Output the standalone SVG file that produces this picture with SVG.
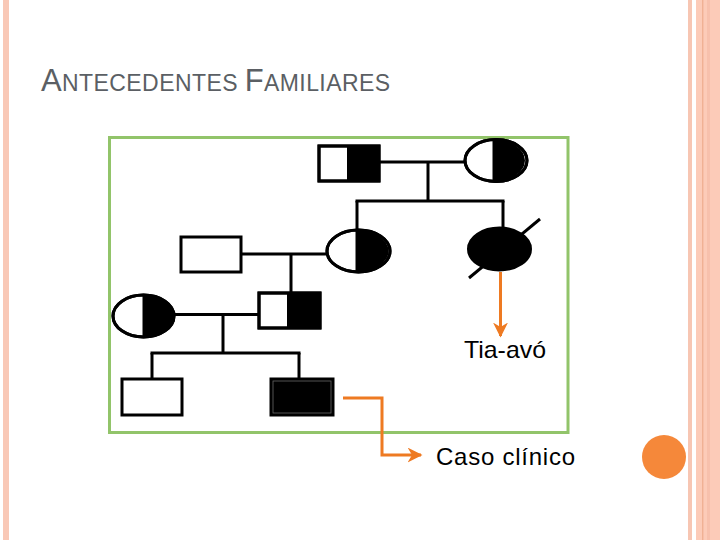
<svg xmlns="http://www.w3.org/2000/svg" width="720" height="540" viewBox="0 0 720 540">
<defs>
<style>
.ln{stroke:#000;stroke-width:3;fill:none}
.nd{stroke:#000;stroke-width:3;fill:#fff}
.bk{fill:#000;stroke:none}
.or{stroke:#EE7A22;stroke-width:3;fill:none}
.lbl{font-family:"Liberation Sans",Arial,sans-serif;fill:#000}
</style>
<marker id="ah" viewBox="0 0 10 10" refX="9" refY="5" markerWidth="5" markerHeight="5" orient="auto" markerUnits="strokeWidth">
<path d="M0,0 L10,5 L0,10 L3,5 Z" fill="#EE7A22"/>
</marker>
</defs>
<rect width="720" height="540" fill="#fff"/>
<!-- side decorations -->
<rect x="3" y="0" width="6" height="540" fill="#F9C8B6"/>
<rect x="688" y="0" width="4" height="540" fill="#F7C6B3"/>
<rect x="696" y="0" width="24" height="540" fill="#FCCBB8"/>
<rect x="707" y="0" width="3" height="540" fill="#F7C0AC"/>
<line x1="702.8" y1="0" x2="702.8" y2="540" stroke="#EBA585" stroke-width="1"/>
<circle cx="664" cy="457" r="22" fill="#F5883A"/>
<!-- title -->
<text x="41" y="91" fill="#5B5F64" font-family="'Liberation Sans',Arial,sans-serif" textLength="349" lengthAdjust="spacing"><tspan font-size="31">A</tspan><tspan font-size="23">NTECEDENTES </tspan><tspan font-size="31">F</tspan><tspan font-size="23">AMILIARES</tspan></text>
<!-- frame -->
<rect x="109.5" y="137.5" width="458.5" height="295" fill="none" stroke="#92C46A" stroke-width="3"/>
<!-- connectors -->
<g id="connectors">
<line class="ln" x1="379" y1="162" x2="465" y2="162"/>
<line class="ln" x1="428" y1="162" x2="428" y2="201"/>
<line class="ln" x1="355.5" y1="201" x2="504.5" y2="201"/>
<line class="ln" x1="357" y1="201" x2="357" y2="230"/>
<line class="ln" x1="503" y1="201" x2="503" y2="228"/>
<line class="ln" x1="241" y1="254" x2="327" y2="254"/>
<line class="ln" x1="291" y1="254" x2="291" y2="293"/>
<line class="ln" x1="174" y1="314.5" x2="259" y2="314.5"/>
<line class="ln" x1="223" y1="314.5" x2="223" y2="353"/>
<line class="ln" x1="150.5" y1="353" x2="300.5" y2="353"/>
<line class="ln" x1="152" y1="353" x2="152" y2="379"/>
<line class="ln" x1="299" y1="353" x2="299" y2="379"/>
<line class="or" x1="500.5" y1="272" x2="500.5" y2="336" marker-end="url(#ah)"/>
<path class="or" d="M343 398 H382 V455 H421" marker-end="url(#ah)"/>
</g>
<!-- nodes -->
<g id="gen1-male">
<rect class="nd" x="319" y="146" width="60" height="35"/>
<rect class="bk" x="347" y="146" width="32" height="35"/>
<rect x="319" y="146" width="60" height="35" fill="none" stroke="#000" stroke-width="3"/>
</g>
<g id="gen1-female">
<ellipse class="nd" cx="496" cy="160.5" rx="31" ry="21"/>
<path class="bk" d="M494 139.5 A31 21 0 0 1 494 181.5 Z"/>
<ellipse cx="496" cy="160.5" rx="31" ry="21" fill="none" stroke="#000" stroke-width="3"/>
<line class="ln" x1="494" y1="139.5" x2="494" y2="181.5"/>
</g>
<g id="gen2-male">
<rect class="nd" x="181" y="237" width="60" height="35"/>
</g>
<g id="gen2-female">
<ellipse class="nd" cx="358.5" cy="251" rx="31.5" ry="21"/>
<path class="bk" d="M357 230 A31.5 21 0 0 1 357 272 Z"/>
<ellipse cx="358.5" cy="251" rx="31.5" ry="21" fill="none" stroke="#000" stroke-width="3"/>
<line class="ln" x1="357" y1="230" x2="357" y2="272"/>
</g>
<g id="gen2-deceased">
<ellipse cx="499.5" cy="249" rx="31" ry="21" fill="#000" stroke="#000" stroke-width="3"/>
<line x1="469" y1="278" x2="540" y2="219" stroke="#000" stroke-width="3"/>
</g>
<g id="gen3-male">
<rect class="nd" x="259" y="293" width="61" height="35"/>
<rect class="bk" x="287" y="293" width="33" height="35"/>
<rect x="259" y="293" width="61" height="35" fill="none" stroke="#000" stroke-width="3"/>
</g>
<g id="gen3-female">
<ellipse class="nd" cx="143.5" cy="316" rx="30.5" ry="21"/>
<path class="bk" d="M144 295 A30.5 21 0 0 1 144 337 Z"/>
<ellipse cx="143.5" cy="316" rx="30.5" ry="21" fill="none" stroke="#000" stroke-width="3"/>
<line class="ln" x1="144" y1="295" x2="144" y2="337"/>
</g>
<g id="gen4-male">
<rect class="nd" x="122" y="379" width="60" height="36"/>
</g>
<g id="gen4-proband">
<rect x="271" y="379" width="62" height="36" fill="#000" stroke="#000" stroke-width="3"/>
<rect x="273" y="381" width="58" height="32" fill="none" stroke="#666" stroke-width="0.8"/>
</g>
<!-- labels -->
<text class="lbl" x="464" y="358" font-size="24" textLength="82" lengthAdjust="spacingAndGlyphs">Tia-avó</text>
<text class="lbl" x="436" y="465" font-size="24" textLength="139" lengthAdjust="spacing">Caso clínico</text>
</svg>
